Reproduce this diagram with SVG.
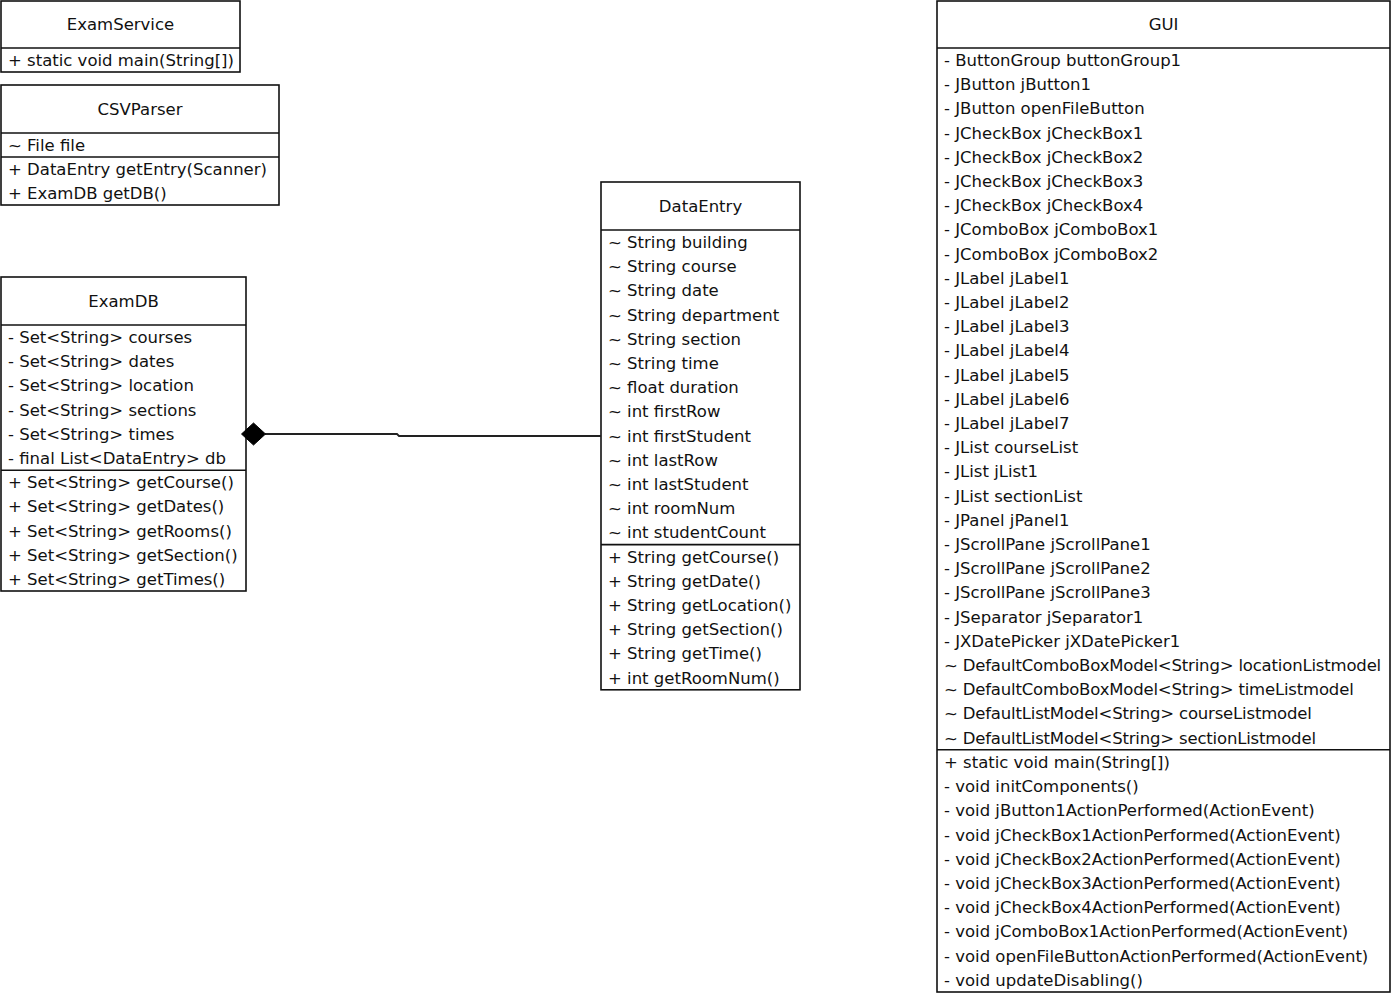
<svg xmlns="http://www.w3.org/2000/svg" width="1400" height="996" viewBox="0 0 1400 996">
  <style>
    .box { fill: #ffffff; stroke: #111111; stroke-width: 1.6; }
    .sep { stroke: #111111; stroke-width: 1.6; }
    .title { font-family: "DejaVu Sans", "Liberation Sans", sans-serif; font-size: 16.5px; fill: #111111; text-anchor: middle; }
    .row { font-family: "DejaVu Sans", "Liberation Sans", sans-serif; font-size: 16.5px; fill: #111111; }
    .tight { letter-spacing: -0.18px; }
    .link { fill: none; stroke: #222222; stroke-width: 1.8; }
  </style>
  <rect width="1400" height="996" fill="#ffffff"/>

  <!-- ExamService -->
  <g id="ExamService">
    <rect class="box" x="1" y="1" width="239" height="71"/>
    <line class="sep" x1="1" y1="48" x2="240" y2="48"/>
    <text class="title" x="120.5" y="30">ExamService</text>
    <text class="row" x="8" y="66">+ static void main(String[])</text>
  </g>

  <!-- CSVParser -->
  <g id="CSVParser">
    <rect class="box" x="1" y="85" width="278" height="120"/>
    <line class="sep" x1="1" y1="133" x2="279" y2="133"/>
    <line class="sep" x1="1" y1="157" x2="279" y2="157"/>
    <text class="title" x="140" y="115">CSVParser</text>
    <text class="row" x="8" y="151">~ File file</text>
    <text class="row" x="8" y="175">+ DataEntry getEntry(Scanner)</text>
    <text class="row" x="8" y="199">+ ExamDB getDB()</text>
  </g>

  <!-- ExamDB -->
  <g id="ExamDB">
    <rect class="box" x="1" y="277" width="245" height="314"/>
    <line class="sep" x1="1" y1="325" x2="246" y2="325"/>
    <line class="sep" x1="1" y1="470.2" x2="246" y2="470.2"/>
    <text class="title" x="123.5" y="307">ExamDB</text>
    <text class="row" y="343">
      <tspan x="8">- Set&lt;String&gt; courses</tspan>
      <tspan x="8" dy="24.2">- Set&lt;String&gt; dates</tspan>
      <tspan x="8" dy="24.2">- Set&lt;String&gt; location</tspan>
      <tspan x="8" dy="24.2">- Set&lt;String&gt; sections</tspan>
      <tspan x="8" dy="24.2">- Set&lt;String&gt; times</tspan>
      <tspan x="8" dy="24.2">- final List&lt;DataEntry&gt; db</tspan>
    </text>
    <text class="row" y="488.2">
      <tspan x="8">+ Set&lt;String&gt; getCourse()</tspan>
      <tspan x="8" dy="24.2">+ Set&lt;String&gt; getDates()</tspan>
      <tspan x="8" dy="24.2">+ Set&lt;String&gt; getRooms()</tspan>
      <tspan x="8" dy="24.2">+ Set&lt;String&gt; getSection()</tspan>
      <tspan x="8" dy="24.2">+ Set&lt;String&gt; getTimes()</tspan>
    </text>
  </g>

  <!-- DataEntry -->
  <g id="DataEntry">
    <rect class="box" x="601" y="182" width="199" height="507.8"/>
    <line class="sep" x1="601" y1="230" x2="800" y2="230"/>
    <line class="sep" x1="601" y1="544.6" x2="800" y2="544.6"/>
    <text class="title" x="700.5" y="212">DataEntry</text>
    <text class="row" y="248">
      <tspan x="608">~ String building</tspan>
      <tspan x="608" dy="24.2">~ String course</tspan>
      <tspan x="608" dy="24.2">~ String date</tspan>
      <tspan x="608" dy="24.2">~ String department</tspan>
      <tspan x="608" dy="24.2">~ String section</tspan>
      <tspan x="608" dy="24.2">~ String time</tspan>
      <tspan x="608" dy="24.2">~ float duration</tspan>
      <tspan x="608" dy="24.2">~ int firstRow</tspan>
      <tspan x="608" dy="24.2">~ int firstStudent</tspan>
      <tspan x="608" dy="24.2">~ int lastRow</tspan>
      <tspan x="608" dy="24.2">~ int lastStudent</tspan>
      <tspan x="608" dy="24.2">~ int roomNum</tspan>
      <tspan x="608" dy="24.2">~ int studentCount</tspan>
    </text>
    <text class="row" y="562.6">
      <tspan x="608">+ String getCourse()</tspan>
      <tspan x="608" dy="24.2">+ String getDate()</tspan>
      <tspan x="608" dy="24.2">+ String getLocation()</tspan>
      <tspan x="608" dy="24.2">+ String getSection()</tspan>
      <tspan x="608" dy="24.2">+ String getTime()</tspan>
      <tspan x="608" dy="24.2">+ int getRoomNum()</tspan>
    </text>
  </g>

  <!-- GUI -->
  <g id="GUI">
    <rect class="box" x="937" y="1" width="453" height="991"/>
    <line class="sep" x1="937" y1="48" x2="1390" y2="48"/>
    <line class="sep" x1="937" y1="749.8" x2="1390" y2="749.8"/>
    <text class="title" x="1163.5" y="30">GUI</text>
    <text class="row" y="66">
      <tspan x="944">- ButtonGroup buttonGroup1</tspan>
      <tspan x="944" dy="24.2">- JButton jButton1</tspan>
      <tspan x="944" dy="24.2">- JButton openFileButton</tspan>
      <tspan x="944" dy="24.2">- JCheckBox jCheckBox1</tspan>
      <tspan x="944" dy="24.2">- JCheckBox jCheckBox2</tspan>
      <tspan x="944" dy="24.2">- JCheckBox jCheckBox3</tspan>
      <tspan x="944" dy="24.2">- JCheckBox jCheckBox4</tspan>
      <tspan x="944" dy="24.2">- JComboBox jComboBox1</tspan>
      <tspan x="944" dy="24.2">- JComboBox jComboBox2</tspan>
      <tspan x="944" dy="24.2">- JLabel jLabel1</tspan>
      <tspan x="944" dy="24.2">- JLabel jLabel2</tspan>
      <tspan x="944" dy="24.2">- JLabel jLabel3</tspan>
      <tspan x="944" dy="24.2">- JLabel jLabel4</tspan>
      <tspan x="944" dy="24.2">- JLabel jLabel5</tspan>
      <tspan x="944" dy="24.2">- JLabel jLabel6</tspan>
      <tspan x="944" dy="24.2">- JLabel jLabel7</tspan>
      <tspan x="944" dy="24.2">- JList courseList</tspan>
      <tspan x="944" dy="24.2">- JList jList1</tspan>
      <tspan x="944" dy="24.2">- JList sectionList</tspan>
      <tspan x="944" dy="24.2">- JPanel jPanel1</tspan>
      <tspan x="944" dy="24.2">- JScrollPane jScrollPane1</tspan>
      <tspan x="944" dy="24.2">- JScrollPane jScrollPane2</tspan>
      <tspan x="944" dy="24.2">- JScrollPane jScrollPane3</tspan>
      <tspan x="944" dy="24.2">- JSeparator jSeparator1</tspan>
      <tspan x="944" dy="24.2">- JXDatePicker jXDatePicker1</tspan>
      <tspan class="tight" x="944" dy="24.2">~ DefaultComboBoxModel&lt;String&gt; locationListmodel</tspan>
      <tspan class="tight" x="944" dy="24.2">~ DefaultComboBoxModel&lt;String&gt; timeListmodel</tspan>
      <tspan class="tight" x="944" dy="24.2">~ DefaultListModel&lt;String&gt; courseListmodel</tspan>
      <tspan class="tight" x="944" dy="24.2">~ DefaultListModel&lt;String&gt; sectionListmodel</tspan>
    </text>
    <text class="row" y="768">
      <tspan x="944">+ static void main(String[])</tspan>
      <tspan x="944" dy="24.2">- void initComponents()</tspan>
      <tspan x="944" dy="24.2">- void jButton1ActionPerformed(ActionEvent)</tspan>
      <tspan x="944" dy="24.2">- void jCheckBox1ActionPerformed(ActionEvent)</tspan>
      <tspan x="944" dy="24.2">- void jCheckBox2ActionPerformed(ActionEvent)</tspan>
      <tspan x="944" dy="24.2">- void jCheckBox3ActionPerformed(ActionEvent)</tspan>
      <tspan x="944" dy="24.2">- void jCheckBox4ActionPerformed(ActionEvent)</tspan>
      <tspan x="944" dy="24.2">- void jComboBox1ActionPerformed(ActionEvent)</tspan>
      <tspan x="944" dy="24.2">- void openFileButtonActionPerformed(ActionEvent)</tspan>
      <tspan x="944" dy="24.2">- void updateDisabling()</tspan>
    </text>
  </g>

  <!-- composition: ExamDB (whole) to DataEntry (part) -->
  <g id="connectors">
    <polyline class="link" points="265,434 397,434 399,436 601,436"/>
    <polygon points="241.5,434 253.5,423 265.5,434 253.5,445" fill="#000000" stroke="#000000" stroke-width="1"/>
  </g>
</svg>
